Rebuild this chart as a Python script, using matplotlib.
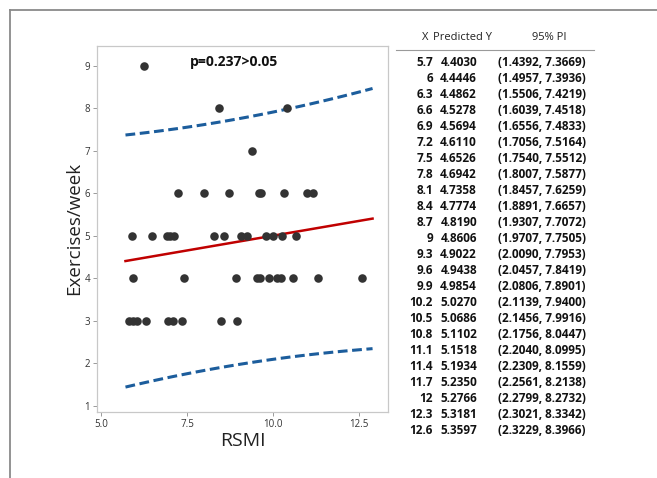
import matplotlib
matplotlib.use("Agg")
import matplotlib.pyplot as plt
from matplotlib.lines import Line2D

plt.rcParams['font.family'] = ['Open Sans', 'DejaVu Sans']

# scatter data (RSMI vs exercises/week)
rsmi = [6.24,
        8.42, 10.40,
        9.38,
        7.24, 8.00, 8.72, 9.58, 9.65, 10.32, 11.00, 11.15,
        5.88, 6.46, 6.90, 7.00, 7.11, 8.28, 8.57, 9.06, 9.23, 9.79, 10.01, 10.27, 10.66,
        5.93, 7.41, 8.92, 9.52, 9.62, 9.89, 10.11, 10.22, 10.57, 11.32, 12.59,
        5.81, 5.91, 6.03, 6.30, 6.93, 7.09, 7.36, 8.49, 8.96]
exercises = [9,
             8, 8,
             7,
             6, 6, 6, 6, 6, 6, 6, 6,
             5, 5, 5, 5, 5, 5, 5, 5, 5, 5, 5, 5, 5,
             4, 4, 4, 4, 4, 4, 4, 4, 4, 4, 4,
             3, 3, 3, 3, 3, 3, 3, 3, 3]

# prediction table
table_x = [5.7, 6, 6.3, 6.6, 6.9, 7.2, 7.5, 7.8, 8.1, 8.4, 8.7, 9, 9.3, 9.6,
           9.9, 10.2, 10.5, 10.8, 11.1, 11.4, 11.7, 12, 12.3, 12.6]
pred_y = [4.4030, 4.4446, 4.4862, 4.5278, 4.5694, 4.6110, 4.6526, 4.6942,
          4.7358, 4.7774, 4.8190, 4.8606, 4.9022, 4.9438, 4.9854, 5.0270,
          5.0686, 5.1102, 5.1518, 5.1934, 5.2350, 5.2766, 5.3181, 5.3597]
pi_low = [1.4392, 1.4957, 1.5506, 1.6039, 1.6556, 1.7056, 1.7540, 1.8007,
          1.8457, 1.8891, 1.9307, 1.9707, 2.0090, 2.0457, 2.0806, 2.1139,
          2.1456, 2.1756, 2.2040, 2.2309, 2.2561, 2.2799, 2.3021, 2.3229]
pi_high = [7.3669, 7.3936, 7.4219, 7.4518, 7.4833, 7.5164, 7.5512, 7.5877,
           7.6259, 7.6657, 7.7072, 7.7505, 7.7953, 7.8419, 7.8901, 7.9400,
           7.9916, 8.0447, 8.0995, 8.1559, 8.2138, 8.2732, 8.3342, 8.3966]

# where the drawn lines end on the plot
end_x = 12.9
end_pred = 5.401
end_low = 2.343
end_high = 8.461

W, H = 657, 478
fig = plt.figure(figsize=(W / 100, H / 100), dpi=100)

def fx(px):
    return px / W

def fy(py):
    return 1 - py / H

# outer frame (top and left edges)
fig.add_artist(Line2D([fx(10), fx(10)], [fy(10), 0], color='#8a8a8a', lw=1.3))
fig.add_artist(Line2D([fx(10), 1], [fy(10), fy(10)], color='#8a8a8a', lw=1.3))

ax = fig.add_axes([fx(97), fy(411.7), fx(388) - fx(97), fy(46) - fy(411.7)])

line_x = table_x + [end_x]
ax.plot(line_x, pi_high + [end_high], color='#1c5d9c', lw=2.2, ls=(0, (3.2, 1.5)))
ax.plot(line_x, pi_low + [end_low], color='#1c5d9c', lw=2.2, ls=(0, (3.2, 1.5)))
ax.plot(line_x, pred_y + [end_pred], color='#c00000', lw=1.8)
ax.scatter(rsmi, exercises, s=38, color='#333333', zorder=3, linewidths=0)

ax.set_xlim(4.87, 13.35)
ax.set_ylim(0.86, 9.46)
ax.set_xticks([5.0, 7.5, 10.0, 12.5])
ax.set_xticklabels(['5.0', '7.5', '10.0', '12.5'])
ax.set_yticks(range(1, 10))
for s in ax.spines.values():
    s.set_color('#c8c8c8')
    s.set_linewidth(0.9)
ax.tick_params(colors='#9a9a9a', labelcolor='#333333', labelsize=7, length=3, width=0.7, pad=2)

ax.set_xlabel('RSMI', fontsize=14, color='#222222', labelpad=2)
ax.set_ylabel('Exercises/week', fontsize=13.5, color='#222222', labelpad=1)
ax.text(0.47, 0.957, 'p=0.237>0.05', transform=ax.transAxes, fontsize=10,
        fontweight='bold', ha='center', va='center', color='#111111')

# prediction table on the right
fig.text(fx(428), fy(38), 'X', ha='right', va='center', fontsize=8, color='#222222')
fig.text(fx(433), fy(38), 'Predicted Y', ha='left', va='center', fontsize=8, color='#222222')
fig.text(fx(549), fy(38), '95% PI', ha='center', va='center', fontsize=8, color='#222222')
fig.add_artist(Line2D([fx(396), fx(594)], [fy(50), fy(50)], color='#9a9a9a', lw=0.8))

row_y0 = 62
row_step = 16.04
for i in range(len(table_x)):
    y = fy(row_y0 + i * row_step)
    fig.text(fx(433), y, '%g' % table_x[i], ha='right', va='center', fontsize=8.5,
             fontweight='bold', color='#111111')
    fig.text(fx(477), y, '%.4f' % pred_y[i], ha='right', va='center', fontsize=8.5,
             fontweight='bold', color='#111111')
    fig.text(fx(586), y, '(%.4f, %.4f)' % (pi_low[i], pi_high[i]), ha='right',
             va='center', fontsize=8.5, fontweight='bold', color='#111111')

fig.savefig('out.png', dpi=100)
